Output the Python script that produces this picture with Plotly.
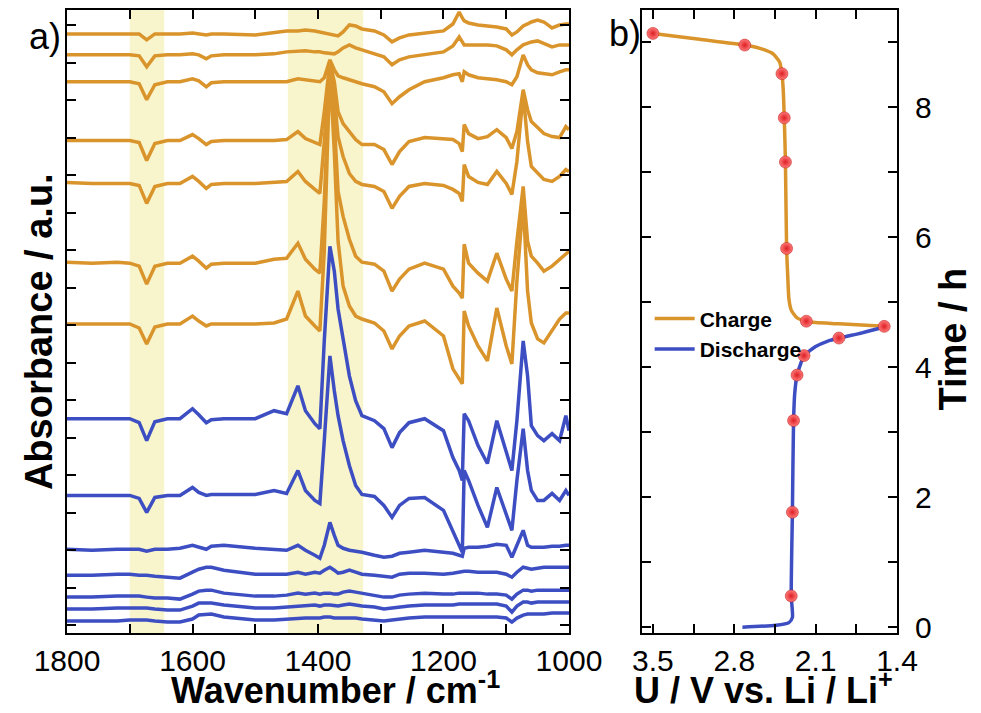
import plotly.graph_objects as go

# ---------------- data: in-situ IR spectra (stacked, arbitrary units) ----------------
wavenumber = [1800, 1760, 1720, 1700, 1685, 1673, 1660, 1640, 1620, 1600,
              1590, 1578, 1570, 1550, 1500, 1470, 1450, 1432, 1420, 1405,
              1397, 1390, 1381, 1374, 1368, 1360, 1350, 1340, 1330, 1310,
              1295, 1282, 1270, 1255, 1230, 1200, 1185, 1175, 1170, 1167,
              1160, 1145, 1130, 1115, 1100, 1091, 1083, 1073, 1066, 1060,
              1050, 1040, 1027, 1015, 1005, 1000]

# charge spectra (top = end of charge)
charge_1 = [601, 601, 601, 601, 601, 595, 601, 601, 601, 602, 601, 600, 601, 601, 600, 602, 604, 604, 605, 604,
            603, 602, 601, 600, 599, 603, 610, 609, 606, 604, 600, 593, 597, 600, 602, 604, 611, 623, 617, 614,
            612, 610, 609, 608, 606, 600, 603, 609, 611, 613, 615, 613, 607, 610, 611, 611]
charge_2 = [580, 580, 580, 580, 579, 568, 579, 580, 580, 581, 580, 576, 579, 580, 580, 581, 583, 584, 584, 583,
            583, 582, 581, 581, 583, 587, 590, 587, 585, 581, 578, 570, 575, 578, 580, 583, 589, 598, 593, 590,
            590, 590, 590, 589, 585, 580, 585, 590, 592, 593, 594, 591, 588, 590, 590, 590]
charge_3 = [553, 553, 553, 553, 551, 535, 550, 553, 553, 556, 554, 548, 552, 553, 553, 553, 553, 556, 555, 554,
            553, 557, 575, 565, 559, 557, 555, 553, 551, 548, 543, 531, 538, 545, 553, 557, 560, 561, 553, 563,
            560, 557, 556, 555, 553, 550, 558, 580, 570, 565, 562, 561, 560, 563, 565, 565]
charge_4 = [494, 494, 494, 494, 492, 474, 491, 494, 494, 500, 496, 490, 493, 494, 494, 494, 495, 503, 496, 492,
            490, 523, 573, 553, 523, 511, 503, 495, 490, 490, 485, 470, 483, 493, 497, 496, 495, 491, 483, 510,
            501, 496, 498, 505, 497, 486, 503, 545, 525, 513, 507, 501, 498, 497, 508, 505]
charge_5 = [452, 451, 451, 451, 449, 431, 448, 451, 451, 458, 453, 446, 450, 451, 451, 452, 453, 463, 453, 445,
            441, 493, 571, 538, 498, 478, 461, 453, 450, 448, 443, 426, 438, 448, 451, 449, 445, 441, 433, 470,
            458, 452, 450, 463, 451, 440, 473, 541, 493, 468, 461, 455, 453, 458, 465, 463]
charge_6 = [372, 371, 372, 371, 368, 350, 368, 371, 371, 378, 373, 366, 370, 371, 371, 375, 376, 391, 375, 365,
            361, 433, 569, 513, 443, 418, 395, 378, 372, 370, 363, 343, 355, 365, 371, 365, 348, 341, 336, 390,
            371, 361, 353, 381, 355, 343, 393, 448, 393, 378, 371, 363, 368, 375, 381, 383]
charge_7 = [310, 310, 310, 310, 306, 290, 307, 310, 310, 318, 313, 308, 310, 310, 310, 311, 315, 343, 318, 308,
            303, 383, 567, 483, 393, 348, 328, 318, 315, 311, 303, 285, 298, 308, 313, 298, 265, 255, 250, 323,
            308, 288, 273, 326, 288, 270, 353, 433, 343, 311, 295, 291, 303, 315, 321, 321]

# discharge spectra (top = end of discharge)
discharge_1 = [215, 215, 215, 215, 211, 193, 212, 215, 215, 225, 219, 211, 214, 215, 215, 223, 220, 248, 223, 210,
               205, 293, 388, 363, 325, 293, 258, 233, 218, 213, 205, 186, 201, 211, 215, 203, 176, 163, 153, 220,
               213, 188, 170, 213, 183, 163, 213, 293, 258, 208, 198, 193, 200, 193, 218, 203]
discharge_2 = [138, 138, 138, 138, 135, 121, 136, 138, 138, 146, 141, 138, 139, 139, 139, 143, 140, 163, 143, 133,
               130, 193, 278, 243, 218, 193, 168, 148, 139, 137, 128, 116, 128, 135, 136, 123, 103, 88, 81, 163,
               153, 128, 106, 146, 118, 103, 153, 205, 163, 143, 133, 133, 140, 133, 143, 138]
discharge_3 = [84, 83, 84, 84, 84, 82, 84, 84, 85, 88, 86, 84, 87, 88, 85, 84, 83, 88, 83, 78,
               75, 88, 111, 98, 88, 85, 83, 82, 81, 78, 76, 77, 80, 81, 83, 81, 80, 78, 77, 85,
               86, 86, 87, 89, 88, 76, 88, 103, 88, 86, 86, 86, 87, 87, 88, 88]
discharge_4 = [58, 58, 59, 59, 58, 58, 57, 56, 55, 61, 64, 66, 66, 63, 59, 59, 59, 61, 59, 61,
               60, 63, 66, 63, 60, 61, 63, 61, 59, 58, 57, 56, 59, 60, 60, 59, 60, 61, 62, 62,
               62, 61, 61, 61, 59, 56, 61, 66, 65, 64, 65, 66, 66, 66, 66, 66]
discharge_5 = [36, 36, 37, 37, 37, 36, 35, 35, 34, 39, 42, 43, 43, 40, 37, 37, 38, 40, 39, 40,
               39, 40, 40, 39, 39, 41, 42, 41, 40, 38, 36, 36, 38, 39, 40, 39, 39, 40, 40, 40,
               40, 40, 39, 39, 38, 34, 39, 43, 43, 42, 43, 43, 43, 43, 43, 43]
discharge_6 = [24, 24, 25, 25, 25, 25, 24, 23, 23, 27, 30, 30, 30, 28, 25, 25, 26, 27, 27, 28,
               27, 28, 28, 27, 27, 28, 29, 28, 27, 26, 24, 25, 26, 27, 28, 28, 28, 29, 29, 29,
               29, 29, 29, 29, 27, 21, 27, 31, 31, 30, 31, 31, 31, 31, 31, 31]
discharge_7 = [12, 12, 12, 13, 13, 13, 12, 11, 11, 14, 18, 19, 19, 16, 13, 13, 14, 15, 15, 15,
               15, 16, 16, 15, 15, 15, 15, 15, 14, 13, 12, 13, 14, 15, 16, 16, 16, 16, 16, 16,
               16, 16, 16, 16, 15, 11, 15, 18, 19, 19, 19, 19, 20, 20, 20, 20]

charge_spectra = [charge_1, charge_2, charge_3, charge_4, charge_5, charge_6, charge_7]
discharge_spectra = [discharge_1, discharge_2, discharge_3, discharge_4, discharge_5, discharge_6, discharge_7]

highlight_bands = [(1700, 1645), (1448, 1328)]

# ---------------- data: voltage profile ----------------
charge_U = [1.51, 1.90, 2.10, 2.18, 2.26, 2.31, 2.33, 2.34, 2.35, 2.36, 2.37, 2.38, 2.39, 2.41, 2.47, 2.58, 2.71, 3.10, 3.50]
charge_t = [4.63, 4.67, 4.69, 4.71, 4.76, 4.88, 5.05, 5.40, 5.83, 7.16, 7.84, 8.30, 8.52, 8.70, 8.83, 8.91, 8.96, 9.05, 9.14]
discharge_U = [2.73, 2.44, 2.33, 2.30, 2.31, 2.30, 2.29, 2.28, 2.26, 2.23, 2.20, 2.10, 2.00, 1.90, 1.70, 1.51]
discharge_t = [0.00, 0.03, 0.07, 0.15, 0.48, 1.77, 3.18, 3.60, 3.88, 4.05, 4.18, 4.32, 4.40, 4.45, 4.53, 4.62]
sample_U = [3.50, 2.71, 2.39, 2.37, 2.36, 2.35, 2.18, 1.51, 1.90, 2.20, 2.26, 2.29, 2.30, 2.31]
sample_t = [9.14, 8.96, 8.52, 7.84, 7.16, 5.83, 4.71, 4.63, 4.45, 4.18, 3.88, 3.18, 1.77, 0.48]

x_ticks_a = [1800, 1600, 1400, 1200, 1000]
x_ticks_b = [3.5, 2.8, 2.1, 1.4]
y_ticks_b = [0, 2, 4, 6, 8]

ORANGE = "#DA942C"
BLUE = "#3D4EC3"
BAND = "#F8F5CD"
FONT = "Liberation Sans, Arial, sans-serif"

fig = go.Figure()

for s in charge_spectra:
    fig.add_trace(go.Scatter(x=wavenumber, y=s, mode="lines", line=dict(color=ORANGE, width=3.5),
                             showlegend=False, hoverinfo="skip", xaxis="x", yaxis="y"))
for s in discharge_spectra:
    fig.add_trace(go.Scatter(x=wavenumber, y=s, mode="lines", line=dict(color=BLUE, width=3.5),
                             showlegend=False, hoverinfo="skip", xaxis="x", yaxis="y"))

fig.add_trace(go.Scatter(x=charge_U, y=charge_t, mode="lines", name="Charge",
                         line=dict(color=ORANGE, width=3.5, shape="spline", smoothing=0.6),
                         xaxis="x2", yaxis="y2"))
fig.add_trace(go.Scatter(x=discharge_U, y=discharge_t, mode="lines", name="Discharge",
                         line=dict(color=BLUE, width=3.5, shape="spline", smoothing=0.6),
                         xaxis="x2", yaxis="y2"))
fig.add_trace(go.Scatter(x=sample_U, y=sample_t, mode="markers", showlegend=False,
                         marker=dict(size=12, color="#FF7A7A",
                                     gradient=dict(type="radial", color="#DD1F24"),
                                     line=dict(width=0.5, color="#B81515")),
                         xaxis="x2", yaxis="y2"))

for lo, hi in highlight_bands:
    fig.add_shape(type="rect", xref="x", yref="y domain", x0=lo, x1=hi, y0=0, y1=1,
                  fillcolor=BAND, line=dict(width=0), layer="below")

axis_common = dict(showline=True, linecolor="black", linewidth=2, mirror="ticks",
                   ticks="inside", tickcolor="black", tickwidth=2, ticklen=9,
                   showgrid=False, zeroline=False,
                   tickfont=dict(family=FONT, size=30, color="black"))

fig.update_layout(
    width=973, height=705,
    margin=dict(l=59, r=84, t=0, b=80),
    paper_bgcolor="white", plot_bgcolor="white",
    font=dict(family=FONT, color="black"),
    xaxis=dict(domain=[0, 0.6048], range=[1800, 1000], tickvals=x_ticks_a,
               minor=dict(dtick=100, tick0=1000, ticks="inside", ticklen=9, tickwidth=2, tickcolor="black"),
               ticklabelstandoff=0, **axis_common),
    yaxis=dict(domain=[0, 1], range=[0, 625], tick0=8, dtick=37.6, showticklabels=False,
               **axis_common),
    xaxis2=dict(domain=[0.6928, 1], range=[3.594, 1.40], anchor="y2", tickvals=x_ticks_b,
                ticktext=["3.5", "2.8", "2.1", "1.4"],
                minor=dict(tickvals=[3.15, 2.45, 1.75], ticks="inside", ticklen=9, tickwidth=2, tickcolor="black"),
                ticklabelstandoff=0, **axis_common),
    yaxis2=dict(domain=[0, 1], range=[-0.09, 9.5], anchor="x2", side="right", tickvals=y_ticks_b,
                minor=dict(dtick=1, tick0=0, ticks="inside", ticklen=9, tickwidth=2, tickcolor="black"),
                ticklabelstandoff=10, **axis_common),
    legend=dict(x=0.702, y=0.537, xanchor="left", yanchor="top", bgcolor="rgba(0,0,0,0)",
                font=dict(family=FONT, size=21, color="black", weight="bold"),
                tracegroupgap=0, itemwidth=40),
    showlegend=True,
)

title_font = dict(family=FONT, size=36, color="black", weight="bold")
fig.add_annotation(text="Absorbance / a.u.", xref="paper", yref="paper", x=-0.033, y=0.484,
                   textangle=-90, showarrow=False, font=dict(family=FONT, size=38, color="black", weight="bold"),
                   xanchor="center", yanchor="middle")
fig.add_annotation(text="Wavenumber / cm<sup>-1</sup>", xref="paper", yref="paper", x=0.324, y=-0.089,
                   showarrow=False, font=title_font, xanchor="center", yanchor="middle")
fig.add_annotation(text="U / V vs. Li / Li<sup>+</sup>", xref="paper", yref="paper", x=0.8386, y=-0.089,
                   showarrow=False, font=title_font, xanchor="center", yanchor="middle")
fig.add_annotation(text="Time / h", xref="paper", yref="paper", x=1.0675, y=0.471,
                   textangle=-90, showarrow=False, font=dict(family=FONT, size=38, color="black", weight="bold"),
                   xanchor="center", yanchor="middle")
fig.add_annotation(text="a)", xref="paper", yref="paper", x=-0.0265, y=0.957,
                   showarrow=False, font=dict(family=FONT, size=36, color="black"),
                   xanchor="center", yanchor="middle")
fig.add_annotation(text="b)", xref="paper", yref="paper", x=0.6723, y=0.963,
                   showarrow=False, font=dict(family=FONT, size=36, color="black"),
                   xanchor="center", yanchor="middle")

fig.write_html("out.html")
